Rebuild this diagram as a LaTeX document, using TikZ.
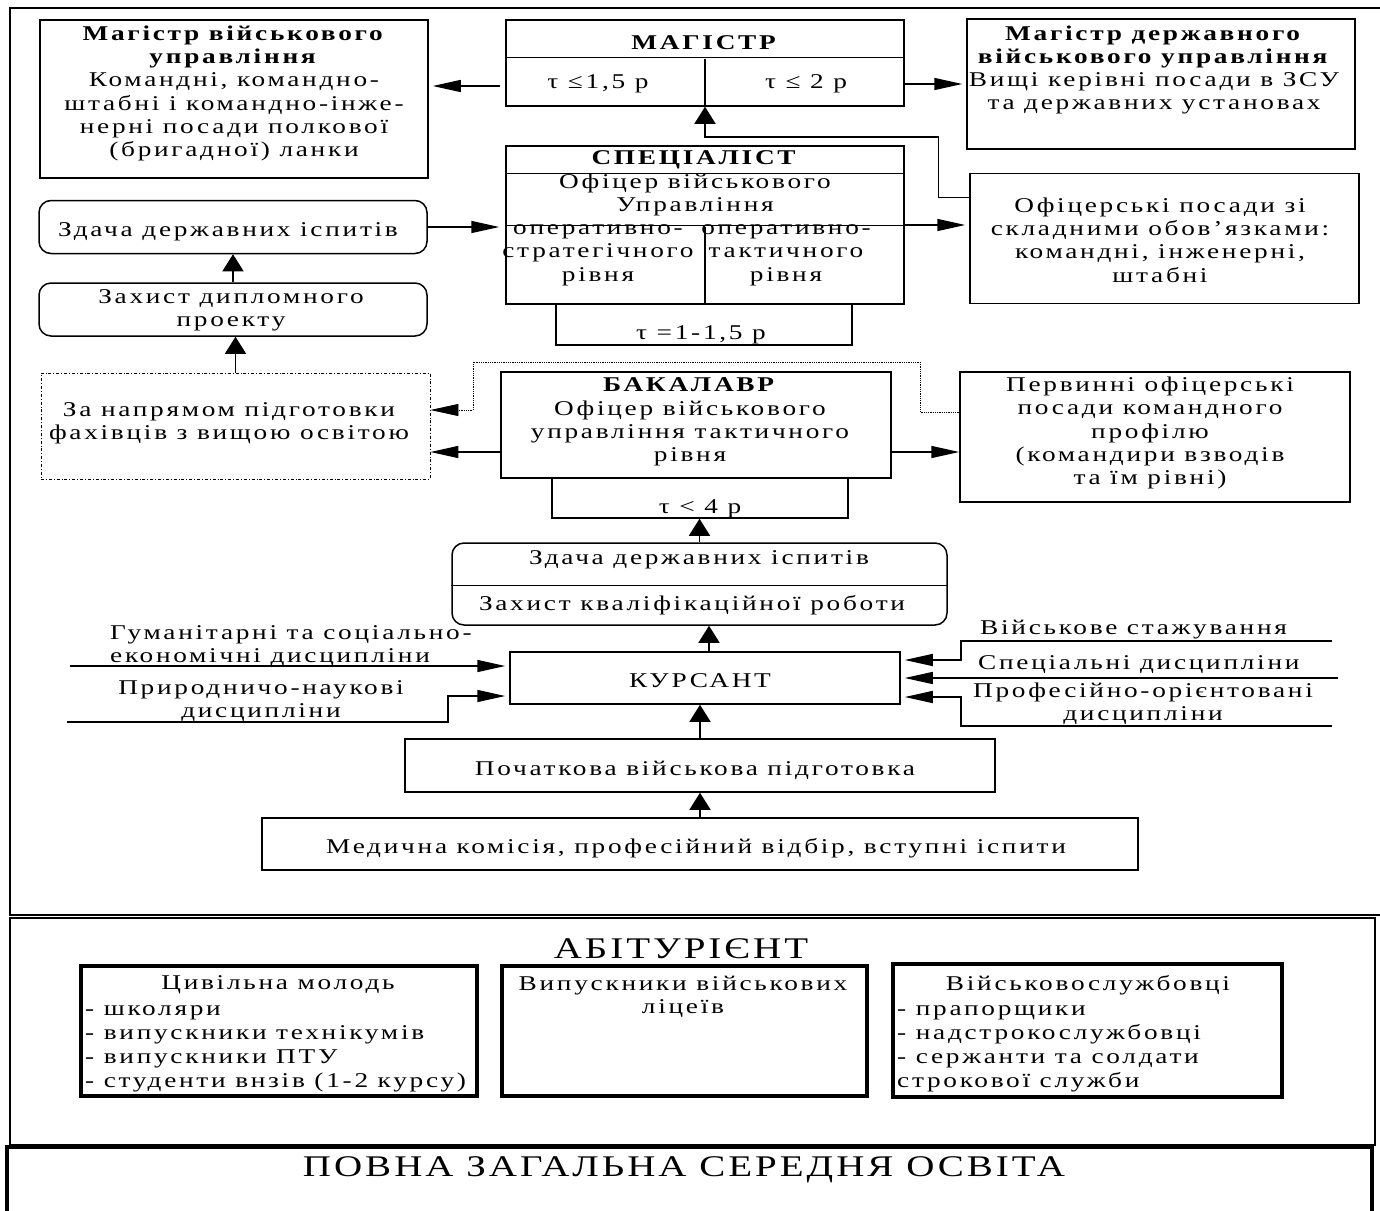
\documentclass[tikz,border=0pt]{standalone}
\usepackage{fontspec}
\setmainfont{Liberation Serif}[FakeStretch=1.3,LetterSpace=13]
\newfontfamily\bigfont{Liberation Serif}[FakeStretch=1.3,LetterSpace=10]
\usetikzlibrary{arrows.meta}
\begin{document}
\begin{tikzpicture}[x=1pt,y=-1pt,
  box/.style={draw, line width=1.5pt, inner sep=0pt},
  rbox/.style={box, rounded corners=12pt},
  dbox/.style={draw, line width=0.8pt, dash dot, inner sep=0pt},
  tbox/.style={draw, line width=3.5pt, inner sep=0pt},
  txt/.style={align=center, inner sep=0pt, yshift=-2pt, font=\fontsize{21}{23.3}\selectfont},
  ltxt/.style={align=left, inner sep=0pt, yshift=-2pt, font=\fontsize{21}{24}\selectfont},
  big/.style={inner sep=0pt, yshift=-2pt, font=\bigfont\fontsize{30}{34}\selectfont},
  ln/.style={line width=1.5pt},
  harr/.style={line width=1.5pt, -{Triangle[length=28pt,width=12pt]}},
  varr/.style={line width=1.5pt, -{Triangle[length=17pt,width=21pt]}}]
\useasboundingbox (0,0) rectangle (1380,1210);

% frames
\draw[line width=1.5pt] (1381,8) -- (10,8) -- (10,915) -- (1381,915);
\node[box, minimum width=1365pt, minimum height=227pt] (abf) at (692.5,1031.5) {};
\node[draw, line width=4pt, inner sep=0pt, minimum width=1365pt, minimum height=100pt] (pzso) at (689.5,1197) {};

% boxes
\node[box, minimum width=388pt, minimum height=158pt] (mvu) at (234,99) {};
\node[box, minimum width=398pt, minimum height=86pt] (mag) at (705,63) {};
\node[box, minimum width=388pt, minimum height=130pt] (mdu) at (1161,84) {};
\node[box, minimum width=398pt, minimum height=158pt] (spec) at (705,225) {};
\node[box, minimum width=296pt, minimum height=41pt] (tau2) at (704,324.5) {};
\node[box, minimum width=389pt, minimum height=130pt] (ofp) at (1164.5,238.5) {};
\node[rbox, minimum width=388pt, minimum height=53pt] (zd1) at (233,227) {};
\node[rbox, minimum width=388pt, minimum height=53pt] (zx1) at (233,309.5) {};
\node[dbox, minimum width=389pt, minimum height=106pt] (napr) at (235.5,426) {};
\node[box, minimum width=390pt, minimum height=106pt] (bak) at (696,425) {};
\node[box, minimum width=296pt, minimum height=40pt] (tau3) at (700,498) {};
\node[box, minimum width=390pt, minimum height=130pt] (perv) at (1155,437) {};
\node[rbox, minimum width=495pt, minimum height=82pt] (rb) at (699.5,584) {};
\node[box, minimum width=390pt, minimum height=52pt] (kurs) at (705,678) {};
\node[box, minimum width=590pt, minimum height=53pt] (poch) at (700,765.5) {};
\node[box, minimum width=876pt, minimum height=52pt] (med) at (700,844) {};
\node[tbox, minimum width=396pt, minimum height=130pt] (ab1) at (279,1031) {};
\node[tbox, minimum width=365pt, minimum height=130pt] (ab2) at (684.5,1031) {};
\node[tbox, minimum width=389pt, minimum height=133pt] (ab3) at (1087.5,1030.5) {};

% inner dividers
\draw[ln] ([yshift=-38pt]mag.north west) -- ([yshift=-38pt]mag.north east);
\draw[ln] (mag.south) -- ++(0,-48);
\draw[ln] ([yshift=-28pt]spec.north west) -- ([yshift=-28pt]spec.north east);
\draw[ln] ([yshift=-80pt]spec.north west) -- ([yshift=-80pt]spec.north east);
\draw[ln] (spec.south) -- ++(0,-78);
\draw[line width=1pt] ([yshift=-43pt]rb.north west) -- ([yshift=-43pt]rb.north east);

% texts
\node[txt] (t1) at (234,91.5) {\textbf{Магістр військового}\\\textbf{управління}\\Командні, командно-\\штабні і командно-інже-\\нерні посади полкової\\(бригадної) ланки};
\node[txt] (t2) at (705,41) {\textbf{МАГІСТР}};
\node[txt] (t3) at (598,82) {τ ≤1,5 р};
\node[txt] (t4) at (806,82) {τ ≤ 2 р};
\node[txt] (t5) at (1154,68) {\textbf{Магістр державного}\\\textbf{військового управління}\\Вищі керівні посади в ЗСУ\\та державних установах};
\node[txt] (t6) at (695,158) {\textbf{СПЕЦІАЛІСТ}};
\node[txt] (t7) at (695,193) {Офіцер військового\\Управління};
\node[txt] (t8) at (598,253) {оперативно-\\стратегічного\\рівня};
\node[txt] (t9) at (786,253) {оперативно-\\тактичного\\рівня};
\node[txt] (t10) at (701,333) {τ =1-1,5 р};
\node[txt] (t11) at (1160,238) {Офіцерські посади зі\\складними обов'язками:\\командні, інженерні,\\штабні};
\node[txt] (t12) at (228,230) {Здача державних іспитів};
\node[txt] (t13) at (231,308) {Захист дипломного\\проекту};
\node[txt] (t14) at (229,421) {За напрямом підготовки\\фахівців з вищою освітою};
\node[txt] (t15) at (690,420) {\textbf{БАКАЛАВР}\\Офіцер військового\\управління тактичного\\рівня};
\node[txt] (t16) at (700,507) {τ < 4 р};
\node[txt] (t17) at (1150,431) {Первинні офіцерські\\посади командного\\профілю\\(командири взводів\\та їм рівні)};
\node[txt] (t18) at (699,558) {Здача державних іспитів};
\node[txt] (t19) at (692,603) {Захист кваліфікаційної роботи};
\node[txt] (t20) at (700,679) {КУРСАНТ};
\node[txt] (t21) at (695,768) {Початкова військова підготовка};
\node[txt] (t22) at (696,846) {Медична комісія, професійний відбір, вступні іспити};
\node[txt, align=left, anchor=west] (t23) at (110,644) {Гуманітарні та соціально-\\економічні дисципліни};
\node[txt] (t24) at (261,699) {Природничо-наукові\\дисципліни};
\node[txt, anchor=west] (t25) at (980,628) {Військове стажування};
\node[txt, anchor=west] (t26) at (978,663) {Спеціальні дисципліни};
\node[txt] (t27) at (1143,702) {Професійно-орієнтовані\\дисципліни};
\node[big] (t28) at (681,947) {АБІТУРІЄНТ};
\node[big] (t29) at (684,1168) {ПОВНА ЗАГАЛЬНА СЕРЕДНЯ ОСВІТА};
\node[txt] (t30) at (278,983) {Цивільна молодь};
\node[ltxt, anchor=west] (t31) at (85,1047) {- школяри\\- випускники технікумів\\- випускники ПТУ\\- студенти внзів (1-2 курсу)};
\node[txt] (t32) at (683,995) {Випускники військових\\ліцеїв};
\node[txt] (t33) at (1088,983) {Військовослужбовці};
\node[ltxt, anchor=west] (t34) at (897,1047) {- прапорщики\\- надстрокослужбовці\\- сержанти та солдати\\строкової служби};

% connectors
\coordinate (c1) at ([yshift=-23pt]mag.west);
\draw[harr] ([xshift=-5pt]c1) -- ([xshift=4pt]c1 -| mvu.east);
\coordinate (c2) at ([yshift=-21pt]mag.east);
\draw[harr] (c2) -- ([xshift=-4pt]c2 -| mdu.west);
\coordinate (c3) at ([yshift=41pt]ofp.west);
\coordinate (c3b) at ([yshift=-30pt]mag.south);
\draw[varr] (c3) -- ++(-31,0) |- (c3b) -- (mag.south);
\draw[harr] (zd1.east) -- ([xshift=-6pt]zd1.east -| spec.west);
\draw[harr] (spec.east) -- ([xshift=-4pt]spec.east -| ofp.west);
\draw[varr] (zx1.north) -- (zd1.south);
\draw[varr] (napr.north) -- (napr.north |- zx1.south);
\coordinate (c8) at ([yshift=-27pt]bak.west);
\draw[harr] (c8) -- (c8 -| napr.east);
\coordinate (c9) at ([yshift=-27pt]bak.east);
\draw[harr] (c9) -- (c9 -| perv.west);
\coordinate (c10) at ([yshift=25pt]perv.west);
\coordinate (c10b) at (473,362);
\coordinate (c10c) at ([yshift=16pt]napr.east);
\draw[line width=0.8pt, densely dotted, -{Triangle[length=28pt,width=12pt]}] (c10) -- ++(-39,0) |- (c10b) |- (c10c);
\draw[varr] (rb.north) -- (rb.north |- tau3.south);
\draw[varr] ([xshift=4pt]kurs.north) -- ([xshift=4pt]kurs.north |- rb.south);
\draw[varr] (poch.north) -- (poch.north |- kurs.south);
\draw[varr] (med.north) -- (med.north |- poch.south);
\coordinate (h1) at (70,666);
\draw[harr] (h1) -- ([xshift=-4pt]h1 -| kurs.west);
\coordinate (h2) at (67,722);
\draw[harr] (h2) -- ++(381,0) |- ([xshift=-4pt,yshift=-18pt]kurs.west);
\coordinate (h3) at (1332,641);
\draw[harr] (h3) -- ++(-371,0) |- ([xshift=4pt,yshift=18pt]kurs.east);
\coordinate (h4) at (1338,678);
\draw[harr] (h4) -- ([xshift=4pt]h4 -| kurs.east);
\coordinate (h5) at (1332,726);
\draw[harr] (h5) -- ++(-371,0) |- ([xshift=4pt,yshift=-19pt]kurs.east);
\end{tikzpicture}
\end{document}
